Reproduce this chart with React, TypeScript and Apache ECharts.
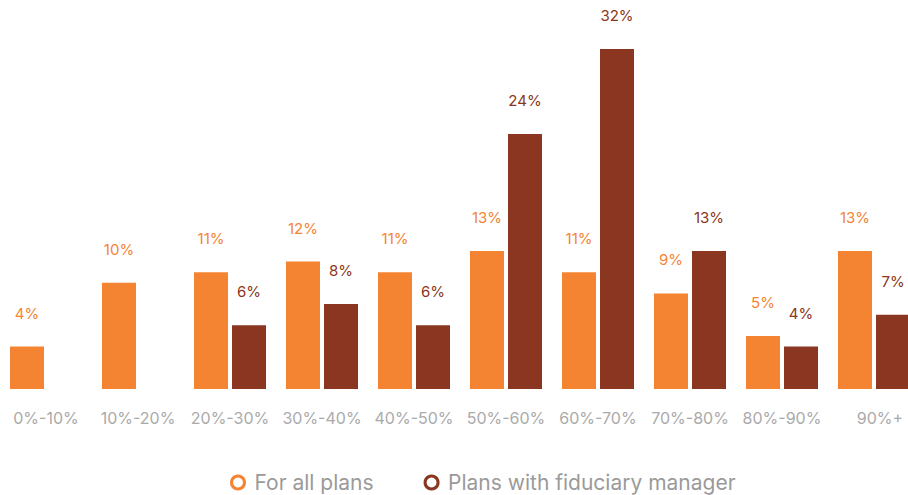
import React, { useEffect, useRef } from "react";
import * as echarts from "echarts";

const categories = ["0%-10%", "10%-20%", "20%-30%", "30%-40%", "40%-50%", "50%-60%", "60%-70%", "70%-80%", "80%-90%", "90%+"];
const allPlans = [4, 10, 11, 12, 11, 13, 11, 9, 5, 13];
const fiduciaryPlans: (number | null)[] = [null, null, 6, 8, 6, 24, 32, 13, 4, 7];
const seriesNames = ["For all plans", "Plans with fiduciary manager"];

const ORANGE = "#F58432";
const BROWN = "#8B3620";
const FONT = "Inter, 'Noto Sans', sans-serif";

export default function App() {
  const ref = useRef<HTMLDivElement>(null);

  useEffect(() => {
    if (!ref.current) return;
    const chart = echarts.init(ref.current, null, { renderer: "svg" });
    const label = (color: string) => ({
      show: true,
      position: "top" as const,
      distance: 26,
      color,
      fontSize: 15,
      fontFamily: FONT,
      formatter: (p: any) => (p.value == null ? "" : `${p.value}%`),
    });
    chart.setOption({
      animation: false,
      textStyle: { fontFamily: FONT },
      grid: { left: 0, right: 0, top: 49, bottom: 106, containLabel: false },
      legend: {
        bottom: -3,
        left: 225,
        padding: 5,
        itemWidth: 13,
        itemHeight: 13,
        itemGap: 50,
        icon: "circle",
        textStyle: { color: "#9a9a9a", fontSize: 21, fontFamily: FONT, padding: [0, 0, 0, 5] },
        data: [
          { name: seriesNames[0], itemStyle: { color: "#fff", borderColor: ORANGE, borderWidth: 3 } },
          { name: seriesNames[1], itemStyle: { color: "#fff", borderColor: BROWN, borderWidth: 3 } },
        ],
      },
      xAxis: {
        type: "category",
        data: categories.map((c, i) =>
          i === categories.length - 1 ? { value: c, textStyle: { padding: [0, 0, 0, 12] } } : c
        ),
        axisLine: { show: false },
        axisTick: { show: false },
        axisLabel: { color: "#aaaaaa", fontSize: 16, margin: 21, fontFamily: FONT, interval: 0 },
      },
      yAxis: {
        type: "value",
        min: 0,
        max: 32,
        show: false,
        splitLine: { show: false },
      },
      series: [
        {
          name: seriesNames[0],
          type: "bar",
          data: allPlans,
          barWidth: 34,
          barGap: "11.8%",
          itemStyle: { color: ORANGE },
          label: label(ORANGE),
        },
        {
          name: seriesNames[1],
          type: "bar",
          data: fiduciaryPlans,
          barWidth: 34,
          itemStyle: { color: BROWN },
          label: label(BROWN),
        },
      ],
    });
    return () => chart.dispose();
  }, []);

  return (
    <div style={{ position: "absolute", left: 0, top: 0, width: 908, height: 495, overflow: "hidden", background: "#fff" }}>
      <div ref={ref} style={{ width: 920, height: 495 }} />
    </div>
  );
}
